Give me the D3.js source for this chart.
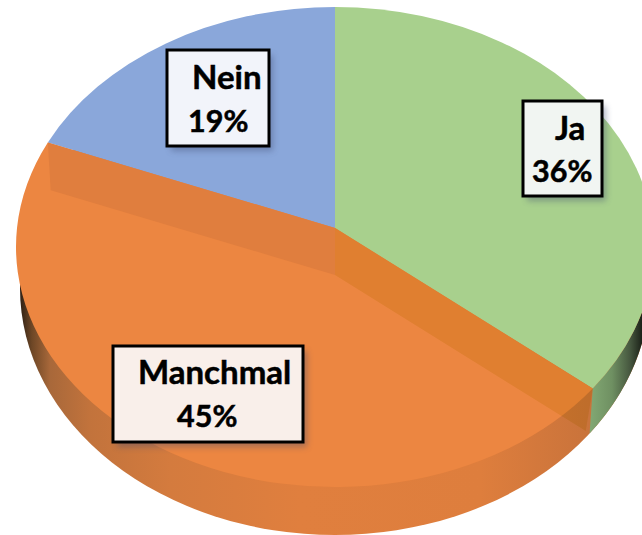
<!DOCTYPE html>
<html>
<head>
<meta charset="utf-8">
<script src="https://cdnjs.cloudflare.com/ajax/libs/d3/7.8.5/d3.min.js"></script>
<style>
  html, body { margin: 0; padding: 0; background: #fff; overflow: hidden; }
  svg { display: block; }
  text { font-family: Lato, sans-serif; font-weight: 700; fill: #000; stroke: #000; stroke-width: 0.5px; }
  .name { font-size: 33px; }
  .pct { font-size: 30.5px; }
</style>
</head>
<body>
<script>
// chart values
let categories = ['Ja', 'Manchmal', 'Nein'];
let values = [36, 45, 19];
let faceColors = ['#a8d08d', '#ec8641', '#8aa7da'];

// where the label boxes sit, same order as categories
let boxes = [
  { x: 523, y: 101, w: 79, h: 95, nameX: 555, nameY: 140, pctX: 532, pctY: 182 },
  { x: 113, y: 346, w: 190, h: 96, nameX: 138, nameY: 384, pctX: 177, pctY: 427 },
  { x: 167, y: 50, w: 102, h: 96, nameX: 192, nameY: 89, pctX: 188, pctY: 132 }
];
let boxFills = ['#f1f5f2', '#f9efea', '#f2f4fa'];

let svgWidth = 642;
let svgHeight = 535;

// top face ellipse + the bottom rim, the apex sits above the ellipse centre (perspective)
let top_ = { cx: 335, cy: 247, rx: 319, ry: 240 };
let bot = { cx: 335, cy: 288, rx: 315, ry: 247 };
let apex = { x: 335, y: 228 };
let depth = 47;

let svg = d3.select('body').append('svg')
  .attr('width', svgWidth)
  .attr('height', svgHeight);

let defs = svg.append('defs');

function gradient(id, stops) {
  let g = defs.append('linearGradient').attr('id', id)
    .attr('gradientUnits', 'userSpaceOnUse')
    .attr('x1', 0).attr('x2', svgWidth).attr('y1', 0).attr('y2', 0);
  stops.forEach(s => g.append('stop').attr('offset', s[0] / svgWidth).attr('stop-color', s[1]));
}

gradient('wallOrange', [[20, '#2e2014'], [32, '#6e4726'], [50, '#a8683a'], [90, '#c2733c'],
  [170, '#d47b3e'], [300, '#e07f3e'], [480, '#de7e3d'], [590, '#c9733b']]);
gradient('wallGreen', [[590, '#82a873'], [612, '#6f9062'], [630, '#46573f'], [642, '#1c2219']]);

let shadow = defs.append('filter').attr('id', 'boxShadow')
  .attr('x', '-20%').attr('y', '-20%').attr('width', '150%').attr('height', '150%');
shadow.append('feGaussianBlur').attr('stdDeviation', 3);

// pie angles -> ray from a start point out to the ellipse
function rayToEllipse(angle, from, e) {
  let dx = Math.sin(angle) * e.rx;
  let dy = -Math.cos(angle) * e.rx * (top_.ry / top_.rx);
  let ox = (from.x - e.cx) / e.rx, oy = (from.y - e.cy) / e.ry;
  let a = (dx / e.rx) ** 2 + (dy / e.ry) ** 2;
  let b = 2 * (ox * dx / e.rx + oy * dy / e.ry);
  let c = ox * ox + oy * oy - 1;
  let t = (-b + Math.sqrt(b * b - 4 * a * c)) / (2 * a);
  return { x: from.x + dx * t, y: from.y + dy * t, dx: dx, dy: dy, t: t };
}

function paramAngle(p, e) {
  return Math.atan2((p.y - e.cy) / e.ry, (p.x - e.cx) / e.rx);
}

function arcTo(p0, p1, e, sweep) {
  let d = paramAngle(p1, e) - paramAngle(p0, e);
  if (sweep === 0) d = -d;
  if (d < 0) d += Math.PI * 2;
  return `A${e.rx} ${e.ry} 0 ${d > Math.PI ? 1 : 0} ${sweep} ${p1.x} ${p1.y}`;
}

let pie = d3.pie().sort(null).value(d => d);
let slices = pie(values);

let shiftedApex = { x: apex.x, y: apex.y + depth };
function lowerPoint(angle) {
  let r = rayToEllipse(angle, shiftedApex, bot);
  return { x: shiftedApex.x + r.dx * r.t * 0.985, y: shiftedApex.y + r.dy * r.t * 0.985 };
}

let jaEnd = slices[0].endAngle;
let neinStart = slices[2].startAngle;
let rightTop = rayToEllipse(jaEnd, apex, top_);
let leftTop = rayToEllipse(neinStart, apex, top_);
let rightLow = lowerPoint(jaEnd);
let leftLow = lowerPoint(neinStart);
let rightRimLow = rayToEllipse(jaEnd, shiftedApex, bot);

// side wall
svg.append('ellipse')
  .attr('cx', bot.cx).attr('cy', bot.cy)
  .attr('rx', bot.rx).attr('ry', bot.ry)
  .attr('fill', 'url(#wallOrange)');

let botRight = { x: bot.cx + bot.rx, y: bot.cy };
let topRight = { x: top_.cx + top_.rx, y: top_.cy };
svg.append('path')
  .attr('d', `M${rightTop.x} ${rightTop.y}L${rightRimLow.x} ${rightRimLow.y}` +
    arcTo(rightRimLow, botRight, bot, 0) + `L${topRight.x} ${topRight.y}` +
    arcTo(topRight, rightTop, top_, 1) + 'Z')
  .attr('fill', 'url(#wallGreen)');

// top faces
svg.selectAll('path.face')
  .data(slices)
  .enter()
  .append('path')
    .attr('class', 'face')
    .attr('fill', (d, i) => faceColors[i])
    .attr('d', d => {
      let p0 = rayToEllipse(d.startAngle, apex, top_);
      let p1 = rayToEllipse(d.endAngle, apex, top_);
      return `M${apex.x} ${apex.y}L${p0.x} ${p0.y}` + arcTo(p0, p1, top_, 1) + 'Z';
    });

// inner walls of the orange piece, seen through the face
svg.append('path')
  .attr('d', `M${apex.x} ${apex.y}L${leftTop.x} ${leftTop.y}L${leftLow.x} ${leftLow.y}` +
    `L${shiftedApex.x} ${shiftedApex.y}Z`)
  .attr('fill', '#e07e3e');
svg.append('path')
  .attr('d', `M${apex.x} ${apex.y}L${rightTop.x} ${rightTop.y}L${rightLow.x} ${rightLow.y}` +
    `L${shiftedApex.x} ${shiftedApex.y}Z`)
  .attr('fill', '#f2f2ba')
  .style('mix-blend-mode', 'multiply');

// labels
let labels = svg.selectAll('g.label')
  .data(categories)
  .enter()
  .append('g')
    .attr('class', 'label');

labels.append('rect')
  .attr('x', (d, i) => boxes[i].x + 4)
  .attr('y', (d, i) => boxes[i].y + 5)
  .attr('width', (d, i) => boxes[i].w)
  .attr('height', (d, i) => boxes[i].h)
  .attr('fill', '#3c4a70')
  .attr('opacity', 0.4)
  .attr('filter', 'url(#boxShadow)');

labels.append('rect')
  .attr('x', (d, i) => boxes[i].x)
  .attr('y', (d, i) => boxes[i].y)
  .attr('width', (d, i) => boxes[i].w)
  .attr('height', (d, i) => boxes[i].h)
  .attr('fill', (d, i) => boxFills[i])
  .attr('stroke', '#000')
  .attr('stroke-width', 3);

labels.append('text')
  .attr('class', 'name')
  .attr('x', (d, i) => boxes[i].nameX)
  .attr('y', (d, i) => boxes[i].nameY)
  .text(d => d);

labels.append('text')
  .attr('class', 'pct')
  .attr('x', (d, i) => boxes[i].pctX)
  .attr('y', (d, i) => boxes[i].pctY)
  .text((d, i) => values[i] + '%');
</script>
</body>
</html>
